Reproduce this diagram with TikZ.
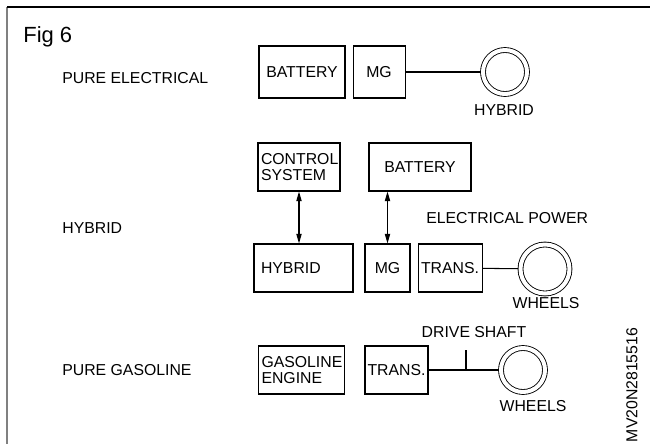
\documentclass[tikz,border=0pt]{standalone}
\usepackage{fontspec}
\setmainfont{Liberation Sans}
\usetikzlibrary{arrows.meta,positioning}

\begin{document}
\begin{tikzpicture}[
  x=0.02cm, y=-0.02cm,
  font=\fontsize{9}{9.6}\selectfont,
  >={Triangle[length=5.5pt,width=3pt]},
  box/.style={
    draw,
    line width=0.6pt,
    minimum height=0.96cm,
    inner xsep=0.06cm,
    inner ysep=0pt,
    align=center
  },
  lbox/.style={box, align=left},
  wheel/.style={
    circle,
    draw,
    line width=0.5pt,
    double,
    double distance=0.08cm,
    outer sep=0.05cm
  },
  tag/.style={anchor=west, inner sep=0pt},
  link/.style={line width=0.6pt},
  arrow/.style={<->, line width=0.6pt}
]

\useasboundingbox (0,0) rectangle (650,444);

% frame
\draw[gray, line width=1.4pt] (7,7) -- (7,444);
\draw[line width=1pt] (7,7) -- (650,7);

\node[tag, font=\fontsize{12.5}{13}\selectfont] (fig) at (23,37) {Fig 6};

% pure electrical
\node[tag] (pureel) at (62,78) {PURE ELECTRICAL};

\node[box, minimum width=1.72cm, minimum height=1.04cm] (battery1) at (302,72) {BATTERY};
\node[box, minimum width=1.04cm, minimum height=1.04cm, right=0.14cm of battery1] (mg1) {MG};
\node[wheel, minimum size=0.88cm] (wheel1) at (505,72) {};
\node (hybridwh) at (504,110) {HYBRID};

\draw[link] (mg1) -- (wheel1);

% hybrid
\node[tag] (hybrid) at (62,228) {HYBRID};

\node[lbox, text width=1.52cm] (control) at (299,167) {CONTROL\\SYSTEM};
\node[box, minimum width=2.04cm] (battery2) at (420,167) {BATTERY};

\node[lbox, text width=1.7cm, inner xsep=0.14cm] (hybridbox) at (303.5,268) {HYBRID};
\node[box, minimum width=0.9cm] (mg2) at (387.5,268) {MG};
\node[box, minimum width=1.28cm, inner xsep=0pt, right=0.14cm of mg2] (trans2) {TRANS.};
\node[wheel, minimum size=0.98cm] (wheel2) at (545,269) {};
\node (wheels2) at (546,303) {WHEELS};
\node[tag] (elpower) at (426,218) {ELECTRICAL POWER};

\draw[arrow] (control.south) -- (control.south |- hybridbox.north);
\draw[arrow] (battery2.south -| mg2.north) -- (mg2.north);
\draw[link] (trans2) -- (wheel2);

% pure gasoline
\node[tag] (puregas) at (62,370) {PURE GASOLINE};

\node[lbox, text width=1.6cm] (gasoline) at (301.5,370) {GASOLINE\\ENGINE};
\node[box, minimum width=1.26cm, inner xsep=0pt] (trans3) at (396.5,370) {TRANS.};
\node[wheel, minimum size=0.88cm] (wheel3) at (523,370) {};
\node (wheels3) at (533,406) {WHEELS};
\node (driveshaft) at (474,332) {DRIVE SHAFT};
\coordinate (shaft) at (466,350);

\draw[link] (trans3) -- (wheel3);
\draw[link] (shaft) -- (shaft |- trans3.east);

\node[rotate=90] (code) at (632,385) {MV20N2815516};

\end{tikzpicture}
\end{document}
